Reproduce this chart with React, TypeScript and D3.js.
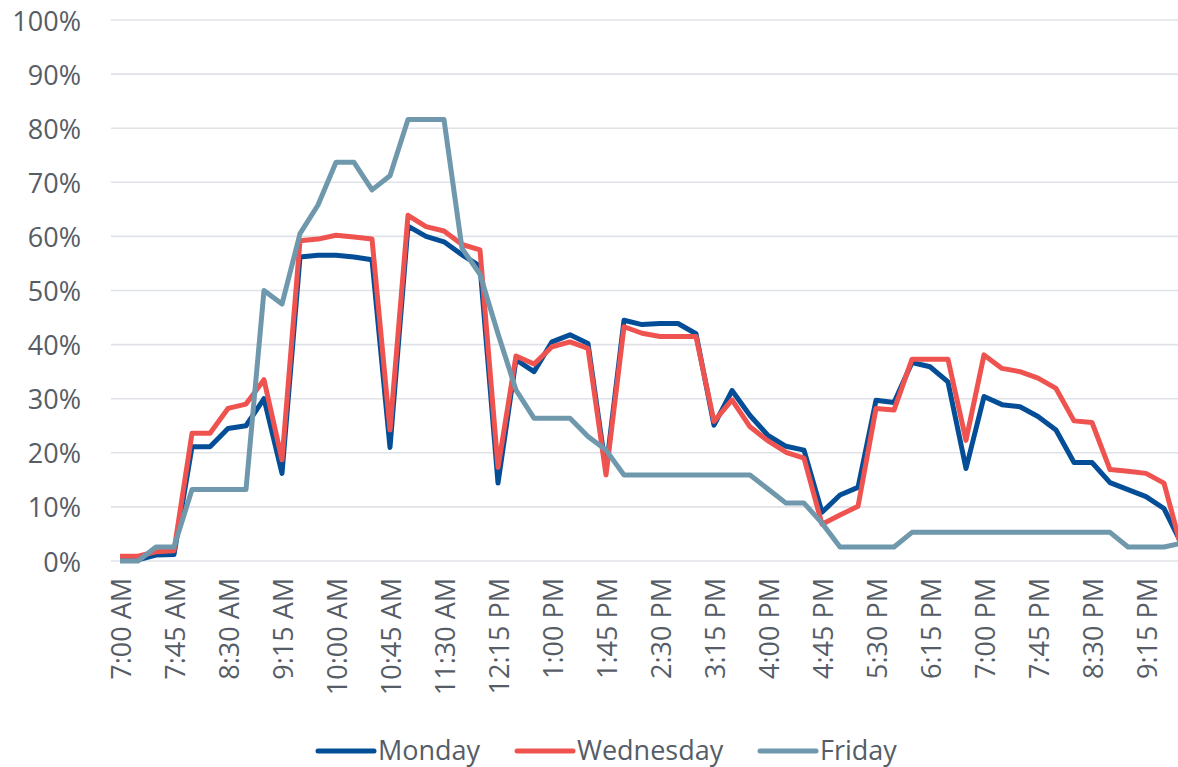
import React from 'react';
import * as d3 from 'd3';

const times = [
  '7:00 AM', '7:15 AM', '7:30 AM', '7:45 AM', '8:00 AM', '8:15 AM', '8:30 AM', '8:45 AM', '9:00 AM', '9:15 AM',
  '9:30 AM', '9:45 AM', '10:00 AM', '10:15 AM', '10:30 AM', '10:45 AM', '11:00 AM', '11:15 AM', '11:30 AM', '11:45 AM',
  '12:00 PM', '12:15 PM', '12:30 PM', '12:45 PM', '1:00 PM', '1:15 PM', '1:30 PM', '1:45 PM', '2:00 PM', '2:15 PM',
  '2:30 PM', '2:45 PM', '3:00 PM', '3:15 PM', '3:30 PM', '3:45 PM', '4:00 PM', '4:15 PM', '4:30 PM', '4:45 PM',
  '5:00 PM', '5:15 PM', '5:30 PM', '5:45 PM', '6:00 PM', '6:15 PM', '6:30 PM', '6:45 PM', '7:00 PM', '7:15 PM',
  '7:30 PM', '7:45 PM', '8:00 PM', '8:15 PM', '8:30 PM', '8:45 PM', '9:00 PM', '9:15 PM', '9:30 PM', '9:45 PM',
];

const monday = [
  0.2, 0.2, 1.1, 1.2, 21.1, 21.1, 24.5, 25, 30, 16.2,
  56.2, 56.5, 56.5, 56.2, 55.7, 21, 61.9, 60, 59, 56.6,
  54.5, 14.4, 37.2, 35, 40.5, 41.8, 40.2, 16.8, 44.5, 43.7,
  43.9, 43.9, 42, 25.1, 31.5, 26.9, 23.2, 21.2, 20.5, 9,
  12.2, 13.6, 29.7, 29.3, 36.7, 35.9, 33.1, 17.1, 30.4, 28.9,
  28.5, 26.7, 24.2, 18.2, 18.2, 14.5, 13.2, 11.9, 9.7, 3,
];

const wednesday = [
  0.9, 0.9, 1.7, 1.9, 23.6, 23.6, 28.2, 29, 33.5, 18.7,
  59.2, 59.5, 60.2, 59.9, 59.5, 24.2, 63.9, 61.8, 61, 58.5,
  57.5, 17.3, 37.9, 36.4, 39.6, 40.5, 39.3, 15.9, 43.3, 42.1,
  41.5, 41.5, 41.5, 25.8, 29.8, 24.8, 22.2, 20.1, 19, 6.8,
  8.5, 10.1, 28.2, 27.9, 37.3, 37.3, 37.3, 22.3, 38.1, 35.6,
  35, 33.8, 31.9, 25.9, 25.6, 16.9, 16.6, 16.2, 14.4, 2,
];

const friday = [
  0, 0, 2.6, 2.6, 13.2, 13.2, 13.2, 13.2, 50, 47.5,
  60.5, 65.8, 73.7, 73.7, 68.6, 71.2, 81.6, 81.6, 81.6, 57.8,
  53, 42, 31.6, 26.4, 26.4, 26.4, 23, 20.5, 15.9, 15.9,
  15.9, 15.9, 15.9, 15.9, 15.9, 15.9, 13.3, 10.7, 10.7, 7,
  2.6, 2.6, 2.6, 2.6, 5.3, 5.3, 5.3, 5.3, 5.3, 5.3,
  5.3, 5.3, 5.3, 5.3, 5.3, 5.3, 2.6, 2.6, 2.6, 3.3,
];

const seriesNames = ['Monday', 'Wednesday', 'Friday'];
const seriesColors = ['#034e96', '#ef5350', '#6f98ad'];
const yTicks = [0, 10, 20, 30, 40, 50, 60, 70, 80, 90, 100];

const W = 1178;
const H = 767;
const FONT = '"Open Sans", "Noto Sans", sans-serif';
const TEXT = '#565d66';

const App = () => {
  const series = [monday, wednesday, friday];

  // category axis, points sit between tick marks
  const x = d3.scaleBand<string>().domain(times).range([111, 1191]).padding(0);
  const cx = (t: string) => (x(t) ?? 0) + x.bandwidth() / 2;
  const y = d3.scaleLinear().domain([0, 100]).range([561, 20]);

  const line = d3.line<number>()
    .x((_, i) => cx(times[i]))
    .y(d => y(d));

  // legend layout
  const legendX = [318, 517, 760];
  const legendY = 749;

  return (
    <svg
      width={W}
      height={H}
      style={{ position: 'absolute', left: 0, top: 0, background: '#fff', overflow: 'hidden' }}
      fontFamily={FONT}
    >
      {yTicks.map(v => (
        <g key={v}>
          <line x1={111} x2={1191} y1={y(v)} y2={y(v)} stroke="#dfe2e7" strokeWidth={1.6} />
          <text
            x={81}
            y={y(v)}
            textAnchor="end"
            dominantBaseline="central"
            fontSize={27}
            fill={TEXT}
          >
            {v}%
          </text>
        </g>
      ))}

      {times.map((t, i) => (i % 3 === 0 ? (
        <text
          key={t}
          transform={`translate(${cx(t)},578) rotate(-90)`}
          textAnchor="end"
          dominantBaseline="central"
          fontSize={27}
          fill={TEXT}
        >
          {t}
        </text>
      ) : null))}

      {series.map((s, i) => (
        <path
          key={seriesNames[i]}
          d={line(s) ?? ''}
          fill="none"
          stroke={seriesColors[i]}
          strokeWidth={5}
          strokeLinejoin="round"
        />
      ))}

      {seriesNames.map((name, i) => (
        <g key={name}>
          <line
            x1={legendX[i]}
            x2={legendX[i] + 56}
            y1={legendY + 2}
            y2={legendY + 2}
            stroke={seriesColors[i]}
            strokeWidth={5}
            strokeLinecap="round"
          />
          <text x={legendX[i] + 60} y={legendY} dominantBaseline="central" fontSize={27} fill={TEXT}>
            {name}
          </text>
        </g>
      ))}
    </svg>
  );
};

export default App;
